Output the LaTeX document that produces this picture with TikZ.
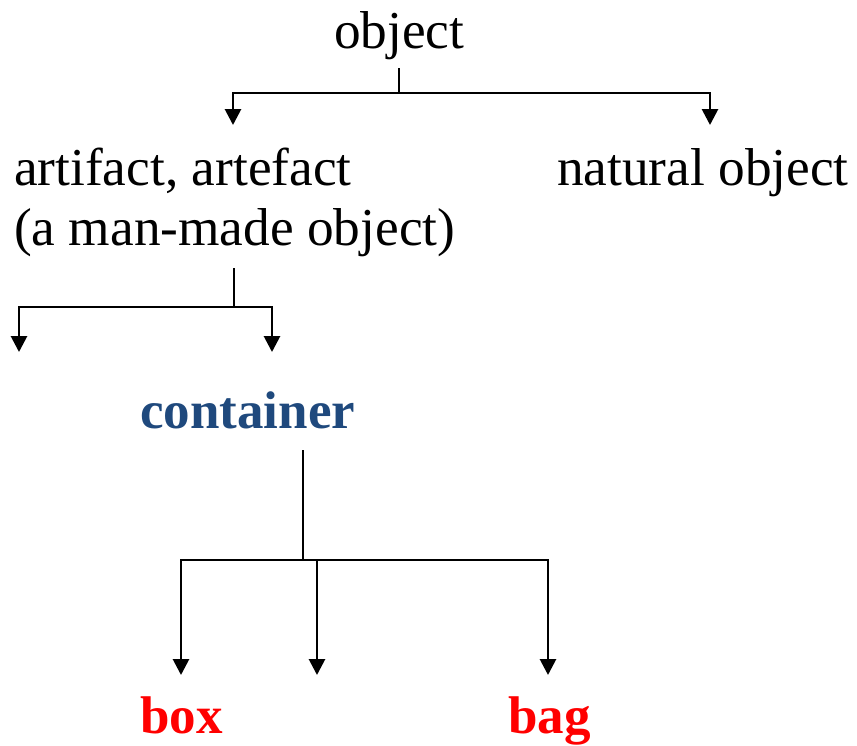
\documentclass[tikz,border=0pt]{standalone}
\usepackage{fontspec}
\setmainfont{Liberation Serif}
\usetikzlibrary{arrows.meta}
\definecolor{cblue}{HTML}{1F497D}
\definecolor{cred}{HTML}{FF0000}
\begin{document}
\begin{tikzpicture}[x=1pt,y=-1pt,
  lbl/.style={inner sep=0pt, anchor=base west, font=\fontsize{53.3}{60}\selectfont},
  blbl/.style={inner sep=0pt, anchor=base west, font=\fontsize{53}{60}\selectfont\bfseries},
  conn/.style={line width=2.8pt},
  arr/.style={conn, -{Triangle[length=16pt,width=16pt]}}]
\useasboundingbox (0,0) rectangle (857,745);
% labels
\node[lbl] (obj) at (334,48) {object};
\node[lbl] (art1) at (14,185) {artifact, artefact};
\node[lbl] (art2) at (14,245) {(a man-made object)};
\node[lbl] (nat) at (557,185) {natural object};
\node[blbl, text=cblue] (cont) at (140,428) {container};
\node[blbl, text=cred] (box) at (140,733) {box};
\node[blbl, text=cred] (bag) at (508,733) {bag};
% coordinates
\coordinate (oTop) at (399,68);
\coordinate (oJun) at (399,93);
\coordinate (oL) at (233,125);
\coordinate (oR) at (710,125);
\coordinate (aTop) at (234,268);
\coordinate (aJun) at (234,307);
\coordinate (aL) at (19,352);
\coordinate (aR) at (272,352);
\coordinate (cTop) at (303,450);
\coordinate (cJun) at (303,560);
\coordinate (cL) at (181,675);
\coordinate (cM) at (317,675);
\coordinate (cR) at (548,675);
% connectors
\draw[conn] (oTop) -- (oJun);
\draw[arr] (oJun) -| (oL);
\draw[arr] (oJun) -| (oR);
\draw[conn] (aTop) -- (aJun);
\draw[arr] (aJun) -| (aL);
\draw[arr] (aJun) -| (aR);
\draw[conn] (cTop) -- (cJun);
\draw[arr] (cJun) -| (cL);
\draw[arr] (cJun) -| (cM);
\draw[arr] (cJun) -| (cR);
\end{tikzpicture}
\end{document}
